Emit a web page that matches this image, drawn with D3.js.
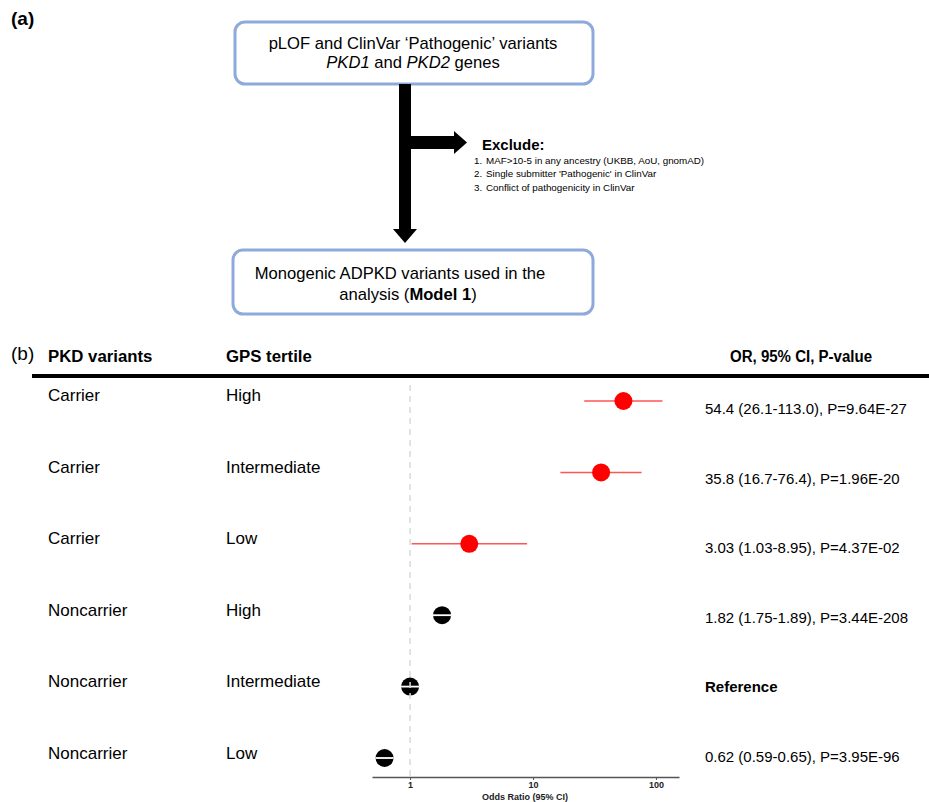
<!DOCTYPE html>
<html><head><meta charset="utf-8">
<script src="https://cdn.jsdelivr.net/npm/d3@7"></script>
<style>
html,body{margin:0;padding:0;background:#fff;}
svg{display:block;font-family:"Liberation Sans",Arial,Helvetica,sans-serif;}
</style></head>
<body>
<svg id="c" width="929" height="802"></svg>
<script>
// ---------- data ----------
const variants = ["Carrier","Carrier","Carrier","Noncarrier","Noncarrier","Noncarrier"];
const tertiles = ["High","Intermediate","Low","High","Intermediate","Low"];
const oddsRatio = [54.4, 35.8, 3.03, 1.82, 1.0, 0.62];
const ciLow  = [26.1, 16.7, 1.03, 1.75, 1.0, 0.59];
const ciHigh = [113.0, 76.4, 8.95, 1.89, 1.0, 0.65];
const carrier = [true, true, true, false, false, false];
const resultLabels = ["54.4 (26.1-113.0), P=9.64E-27","35.8 (16.7-76.4), P=1.96E-20",
  "3.03 (1.03-8.95), P=4.37E-02","1.82 (1.75-1.89), P=3.44E-208","Reference",
  "0.62 (0.59-0.65), P=3.95E-96"];
const tickValues = [1, 10, 100];
const excludeItems = ["MAF>10-5 in any ancestry (UKBB, AoU, gnomAD)",
  "Single submitter 'Pathogenic' in ClinVar","Conflict of pathogenicity in ClinVar"];

const svg = d3.select("#c");
const rows = d3.range(variants.length);

// ---------- panel (a) flowchart ----------
svg.append("text").attr("x",11).attr("y",25).attr("font-size",19).attr("font-weight","bold").text("(a)");
const boxStroke = "#8eaadb";
svg.append("rect").attr("x",235).attr("y",22).attr("width",358).attr("height",62).attr("rx",10)
  .attr("fill","#fff").attr("stroke",boxStroke).attr("stroke-width",3);
svg.append("text").attr("x",413).attr("y",49).attr("text-anchor","middle").attr("font-size",16.6)
  .text("pLOF and ClinVar \u2018Pathogenic\u2019 variants");
const t2 = svg.append("text").attr("x",413).attr("y",68).attr("text-anchor","middle").attr("font-size",16.6);
t2.append("tspan").attr("font-style","italic").text("PKD1");
t2.append("tspan").text(" and ");
t2.append("tspan").attr("font-style","italic").text("PKD2");
t2.append("tspan").text(" genes");

// arrows
svg.append("rect").attr("x",399).attr("y",84).attr("width",12).attr("height",146).attr("fill","#000");
svg.append("path").attr("d","M393,229 L417,229 L405,243 Z").attr("fill","#000");
svg.append("rect").attr("x",405).attr("y",136).attr("width",50).attr("height",13).attr("fill","#000");
svg.append("path").attr("d","M454,131 L467,142.5 L454,154 Z").attr("fill","#000");

svg.append("text").attr("x",482).attr("y",150).attr("font-size",15).attr("font-weight","bold").text("Exclude:");
excludeItems.forEach((s,i)=>{
  svg.append("text").attr("x",474).attr("y",164+i*13.3).attr("font-size",9.8).text((i+1)+".");
  svg.append("text").attr("x",486).attr("y",164+i*13.3).attr("font-size",9.8).text(s);
});

svg.append("rect").attr("x",233).attr("y",250).attr("width",360).attr("height",64).attr("rx",10)
  .attr("fill","#fff").attr("stroke",boxStroke).attr("stroke-width",3);
svg.append("text").attr("x",400).attr("y",279).attr("text-anchor","middle").attr("font-size",16.6)
  .text("Monogenic ADPKD variants used in the");
const t3 = svg.append("text").attr("x",408).attr("y",300).attr("text-anchor","middle").attr("font-size",16.6);
t3.append("tspan").text("analysis (");
t3.append("tspan").attr("font-weight","bold").text("Model 1");
t3.append("tspan").text(")");

// ---------- panel (b) forest plot ----------
svg.append("text").attr("x",11).attr("y",360).attr("font-size",19).text("(b)");
svg.append("text").attr("x",48).attr("y",362).attr("font-size",16.8).attr("font-weight","bold").text("PKD variants");
svg.append("text").attr("x",226).attr("y",362).attr("font-size",16.8).attr("font-weight","bold").text("GPS tertile");
svg.append("text").attr("x",730).attr("y",362).attr("font-size",16.8).attr("font-weight","bold")
  .attr("textLength",142).attr("lengthAdjust","spacingAndGlyphs").text("OR, 95% CI, P-value");
svg.append("rect").attr("x",32).attr("y",374).attr("width",897).attr("height",4).attr("fill","#000");

const x = d3.scaleLog().domain([0.49, 154]).range([372, 679]);
const yPt = d3.scalePoint().domain(rows).range([401, 758]);
const yLeft = d3.scalePoint().domain(rows).range([401, 759]);
const yRight = d3.scalePoint().domain(rows).range([414, 762]);

// left labels
svg.append("g").selectAll("text").data(rows).join("text")
  .attr("x",48).attr("y",d=>yLeft(d)).attr("font-size",17).text(d=>variants[d]);
svg.append("g").selectAll("text").data(rows).join("text")
  .attr("x",226).attr("y",d=>yLeft(d)).attr("font-size",17).text(d=>tertiles[d]);
// right labels
svg.append("g").selectAll("text").data(rows).join("text")
  .attr("x",705).attr("y",d=>yRight(d)).attr("font-size",15)
  .attr("font-weight",d=>resultLabels[d]==="Reference"?"bold":"normal").text(d=>resultLabels[d]);

// axis
const axisY = 777;
const axis = svg.append("g").attr("transform",`translate(0,${axisY})`)
  .call(d3.axisBottom(x).tickValues(tickValues).tickFormat(d3.format("d")).tickSize(3).tickSizeOuter(0));
axis.select(".domain").attr("stroke","#555").attr("stroke-width",1.3);
axis.selectAll(".tick line").attr("stroke","#555");
axis.selectAll(".tick text").attr("font-size",9).attr("font-weight","bold").attr("fill","#222")
  .attr("font-family","Liberation Sans, Arial, sans-serif").attr("dy","0.5em");
svg.append("text").attr("x",525).attr("y",800).attr("text-anchor","middle").attr("font-size",9)
  .attr("font-weight","bold").attr("fill","#222").text("Odds Ratio (95% CI)");

// CI lines
svg.append("g").selectAll("line").data(rows.filter(d=>carrier[d])).join("line")
  .attr("x1",d=>x(ciLow[d])).attr("x2",d=>x(ciHigh[d]))
  .attr("y1",d=>yPt(d)).attr("y2",d=>yPt(d))
  .attr("stroke","#ff5555").attr("stroke-width",1.5);

// points
const r = 9;
svg.append("g").selectAll("circle").data(rows).join("circle")
  .attr("cx",d=>x(oddsRatio[d])).attr("cy",d=>yPt(d)).attr("r",r)
  .attr("fill",d=>carrier[d]?"#ff0000":"#000");
svg.append("g").selectAll("line").data(rows.filter(d=>!carrier[d])).join("line")
  .attr("x1",d=>x(oddsRatio[d])-r).attr("x2",d=>x(oddsRatio[d])+r)
  .attr("y1",d=>yPt(d)).attr("y2",d=>yPt(d))
  .attr("stroke","#fff").attr("stroke-width",1.8);

// reference dashed line
svg.append("line").attr("x1",x(1)).attr("x2",x(1)).attr("y1",385).attr("y2",axisY)
  .attr("stroke","#d3dcdc").attr("stroke-width",1.5).attr("stroke-dasharray","6,5");
</script>
</body></html>
